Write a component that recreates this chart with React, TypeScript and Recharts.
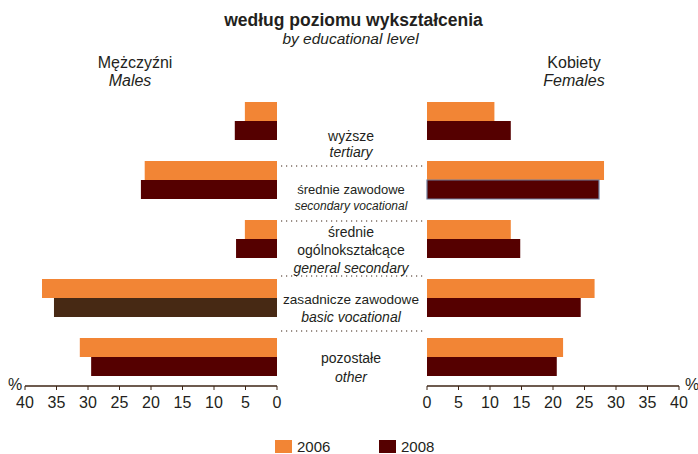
import React from 'react';
import { BarChart, Bar, XAxis, YAxis, Cell } from 'recharts';

// ---- data ----
const categories = ['wyższe', 'średnie zawodowe', 'średnie ogólnokształcące', 'zasadnicze zawodowe', 'pozostałe'];
const males2006 = [5.1, 21.0, 5.1, 37.3, 31.3];
const males2008 = [6.7, 21.6, 6.5, 35.4, 29.5];
const females2006 = [10.7, 28.1, 13.3, 26.6, 21.6];
const females2008 = [13.3, 27.3, 14.8, 24.4, 20.6];
const xTicks = [0, 5, 10, 15, 20, 25, 30, 35, 40];
const years = ['2006', '2008'];
const labelsPl = [['wyższe'], ['średnie zawodowe'], ['średnie', 'ogólnokształcące'], ['zasadnicze zawodowe'], ['pozostałe']];
const labelsEn = ['tertiary', 'secondary vocational', 'general secondary', 'basic vocational', 'other'];
const title = 'według poziomu wykształcenia';
const subtitle = 'by educational level';

const ORANGE = '#F28535';
const DARK = '#550000';
const DARK_BROWN = '#472914';
const AXIS = '#3c2415';
const TEXT = '#231f20';
const FONT = "'Liberation Sans', Arial, Helvetica, sans-serif";

const maleData = categories.map((c, i) => ({ cat: c, v2006: males2006[i], v2008: males2008[i] }));
const femaleData = categories.map((c, i) => ({ cat: c, v2006: females2006[i], v2008: females2008[i] }));

// layout for middle text (hand-placed like the reference)
const labelBaselines = [[141, 157], [194, 209.5], [236.5, 254.5, 272.5], [304, 321.5], [363, 381.5]];
const plSizes = [14, 13, 14, 13.6, 14];
const enSizes = [14, 12, 14, 14, 14];
const separatorsY = [166, 221, 276, 331];

const tickStyle = { fill: TEXT, fontSize: 16, fontFamily: FONT };

export default function App() {
  return (
    <div style={{ position: 'absolute', left: 0, top: 0, width: 698, height: 454, background: '#fff', fontFamily: FONT }}>
      <div style={{ position: 'absolute', left: 0, top: 0 }}>
        <BarChart
          layout="vertical"
          width={290}
          height={430}
          data={maleData}
          margin={{ top: 91, right: 13, bottom: 14, left: 25 }}
          barSize={19}
          barGap={0}
        >
          <XAxis
            type="number"
            domain={[0, 40]}
            ticks={xTicks}
            reversed
            interval={0}
            height={30}
            axisLine={{ stroke: AXIS, strokeWidth: 1.5 }}
            tickLine={{ stroke: AXIS }}
            tickSize={4}
            tickMargin={7}
            tick={tickStyle}
          />
          <YAxis
            type="category"
            dataKey="cat"
            orientation="right"
            width={0}
            tick={false}
            tickLine={false}
            axisLine={{ stroke: AXIS, strokeWidth: 1.5 }}
          />
          <Bar dataKey="v2006" fill={ORANGE} isAnimationActive={false} />
          <Bar dataKey="v2008" fill={DARK} isAnimationActive={false}>
            {maleData.map((d, i) => (
              <Cell key={i} fill={i === 3 ? DARK_BROWN : DARK} />
            ))}
          </Bar>
        </BarChart>
      </div>
      <div style={{ position: 'absolute', left: 400, top: 0 }}>
        <BarChart
          layout="vertical"
          width={298}
          height={430}
          data={femaleData}
          margin={{ top: 91, right: 19, bottom: 14, left: 27 }}
          barSize={19}
          barGap={0}
        >
          <XAxis
            type="number"
            domain={[0, 40]}
            ticks={xTicks}
            interval={0}
            height={30}
            axisLine={{ stroke: AXIS, strokeWidth: 1.5 }}
            tickLine={{ stroke: AXIS }}
            tickSize={4}
            tickMargin={7}
            tick={tickStyle}
          />
          <YAxis
            type="category"
            dataKey="cat"
            orientation="left"
            width={0}
            tick={false}
            tickLine={false}
            axisLine={{ stroke: AXIS, strokeWidth: 1.5 }}
          />
          <Bar dataKey="v2006" fill={ORANGE} isAnimationActive={false} />
          <Bar dataKey="v2008" fill={DARK} isAnimationActive={false}>
            {femaleData.map((d, i) => (
              <Cell key={i} fill={DARK} stroke={i === 1 ? '#6f7d9c' : undefined} strokeWidth={i === 1 ? 1.2 : 0} />
            ))}
          </Bar>
        </BarChart>
      </div>
      <svg width={698} height={454} style={{ position: 'absolute', left: 0, top: 0, pointerEvents: 'none' }} fontFamily={FONT}>
        <text x={353.5} y={25.5} textAnchor="middle" fontSize={17.5} fontWeight="bold" fill={TEXT}>{title}</text>
        <text x={350.5} y={44} textAnchor="middle" fontSize={15.5} fontStyle="italic" fill={TEXT}>{subtitle}</text>
        <text x={135} y={68} textAnchor="middle" fontSize={16} fill={TEXT}>Mężczyźni</text>
        <text x={130} y={86} textAnchor="middle" fontSize={16} fontStyle="italic" fill={TEXT}>Males</text>
        <text x={574} y={68} textAnchor="middle" fontSize={16} fill={TEXT}>Kobiety</text>
        <text x={574} y={86} textAnchor="middle" fontSize={16} fontStyle="italic" fill={TEXT}>Females</text>
        {labelsPl.map((lines, i) => (
          <g key={i}>
            {lines.map((ln, j) => (
              <text key={j} x={351} y={labelBaselines[i][j]} textAnchor="middle" fontSize={plSizes[i]} fill={TEXT}>{ln}</text>
            ))}
            <text x={351} y={labelBaselines[i][lines.length]} textAnchor="middle" fontSize={enSizes[i]} fontStyle="italic" fill={TEXT}>{labelsEn[i]}</text>
          </g>
        ))}
        {separatorsY.map((y, i) => (
          <line key={i} x1={281} x2={423} y1={y} y2={y} stroke={AXIS} strokeWidth={1.2} strokeDasharray="1.2 3.8" />
        ))}
        <text x={8} y={390} fontSize={16} fill={TEXT}>%</text>
        <text x={685} y={390} fontSize={16} fill={TEXT}>%</text>
        {years.map((yr, i) => (
          <g key={yr}>
            <rect x={275 + i * 104} y={440} width={17} height={13} fill={i === 0 ? ORANGE : DARK} />
            <text x={297 + i * 104} y={452} fontSize={15} fill={TEXT}>{yr}</text>
          </g>
        ))}
      </svg>
    </div>
  );
}
